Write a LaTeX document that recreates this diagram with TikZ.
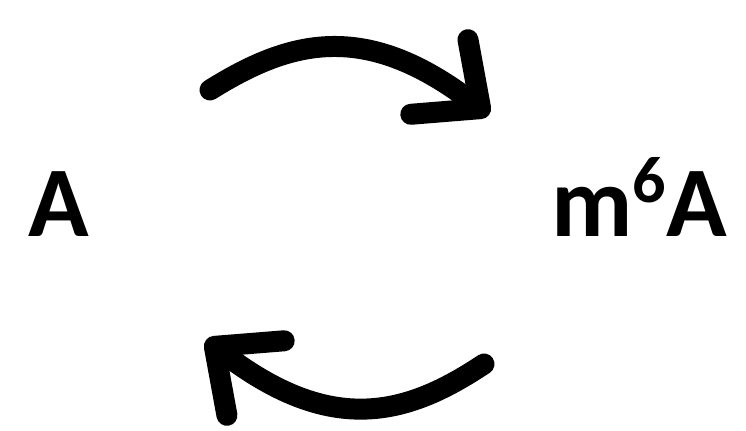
\documentclass[tikz,border=0pt]{standalone}
\usepackage{fontspec}
\setmainfont[Numbers=Lining]{Carlito}
\usepackage{tikz}
\usetikzlibrary{arrows.meta,positioning}

\begin{document}
\begin{tikzpicture}[x=0.5pt,y=-0.5pt,
    molec/.style={font=\fontsize{50}{60}\selectfont\bfseries, inner sep=0pt},
    arrow/.style={-{Straight Barb[length=26pt,width=47pt,round]}, line width=10.5pt, line cap=round, color=black},
]
\useasboundingbox (0,0) rectangle (746,431);

\node[molec,anchor=base] (a) at (59,237) {A};
\node[molec,anchor=base east] (m6a) at (727,237)
    {m\raisebox{17pt}{\fontsize{33}{40}\selectfont 6}A};

\coordinate (t1) at (210,90);
\coordinate (t2) at (489,115);
\coordinate (b1) at (484,364);
\coordinate (b2) at (206,340);

\draw[arrow] (t1) .. controls (290,40) and (365,20) .. (t2);
\draw[arrow] (b1) .. controls (406,416) and (331,436) .. (b2);

\end{tikzpicture}
\end{document}
